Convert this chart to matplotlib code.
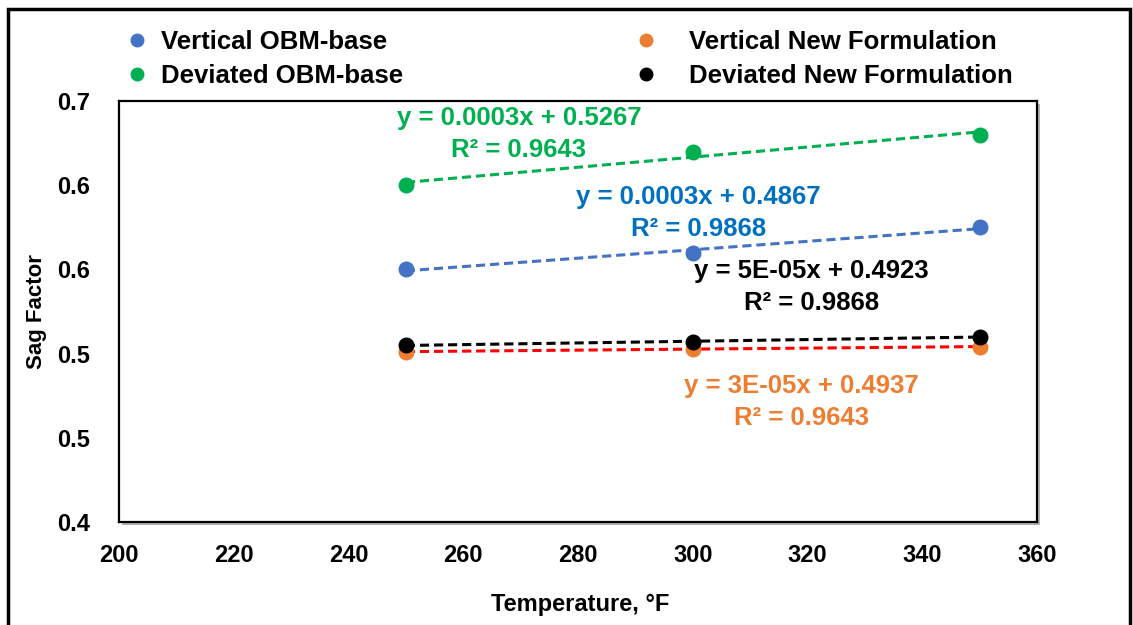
# sag factor vs temperature, four series with linear trendlines
import numpy as np
import matplotlib.pyplot as plt
from matplotlib.patches import Rectangle
from matplotlib.lines import Line2D
from matplotlib.ticker import MultipleLocator, FuncFormatter
import matplotlib.patheffects as pe

temps = [250, 300, 350]
vertical_obm = [0.55, 0.56, 0.575]
vertical_new = [0.501, 0.503, 0.504]
deviated_obm = [0.60, 0.62, 0.63]
deviated_new = [0.505, 0.507, 0.510]

plt.rcParams['font.family'] = ['Liberation Sans', 'DejaVu Sans']
plt.rcParams['font.weight'] = 'bold'
plt.rcParams['axes.labelweight'] = 'bold'

fig = plt.figure(figsize=(11.33, 6.25), dpi=100)
ax = fig.add_axes([119/1133, 1 - 522/625, 918/1133, 421/625])

# label, values, marker colour, trendline colour, equation text, text colour, text pos
series = [
    ("Vertical OBM-base", vertical_obm, "#4472C4", "#4472C4",
     "y = 0.0003x + 0.4867\nR\u00b2 = 0.9868", "#0070C0", (301, 0.5835)),
    ("Deviated OBM-base", deviated_obm, "#00B050", "#00B050",
     "y = 0.0003x + 0.5267\nR\u00b2 = 0.9643", "#00B050", (269.7, 0.6305)),
    ("Vertical New Formulation", vertical_new, "#ED7D31", "#FF0000",
     "y = 3E-05x + 0.4937\nR\u00b2 = 0.9643", "#ED7D31", (319, 0.4713)),
    ("Deviated New Formulation", deviated_new, "#000000", "#000000",
     "y = 5E-05x + 0.4923\nR\u00b2 = 0.9868", "#000000", (320.7, 0.5396)),
]

handles = []
for i, (name, vals, mcol, tcol, eq, ecol, pos) in enumerate(series):
    k, b = np.polyfit(temps, vals, 1)
    xs = np.array([temps[0], temps[-1]])
    ax.plot(xs, k * xs + b, color=tcol, lw=2.2, ls=(0, (3, 1.6)), zorder=3 + i)
    ax.scatter(temps, vals, s=110, color=mcol, zorder=10 + i)
    ax.text(pos[0], pos[1], eq, color=ecol, fontsize=18.5, ha='center', va='center',
            linespacing=1.45, zorder=20)
    handles.append(Line2D([], [], ls='', marker='o', markersize=9, color=mcol, label=name))

ax.set_xlim(200, 360)
ax.set_ylim(0.4, 0.65)
ax.xaxis.set_major_locator(MultipleLocator(20))
ax.yaxis.set_major_locator(MultipleLocator(0.05))
ax.yaxis.set_major_formatter(FuncFormatter(lambda v, p: "%.1f" % round(v + 1e-9, 1)))
ax.tick_params(length=0, labelsize=17)
ax.tick_params(axis='y', pad=21)
ax.tick_params(axis='x', pad=16)

for s in ax.spines.values():
    s.set_color('black')
    s.set_linewidth(1.6)
ax.patch.set_path_effects([pe.withSimplePatchShadow(offset=(2, -2), shadow_rgbFace='gray', alpha=0.6)])

ax.set_xlabel("Temperature, \u00b0F", fontsize=17)
ax.set_ylabel("Sag Factor", fontsize=16)
ax.xaxis.set_label_coords(0.502, -0.168)
ax.yaxis.set_label_coords(-0.078, 0.5)

leg_kw = dict(frameon=False, fontsize=18.5, handlelength=0.6,
              labelspacing=0.38, borderpad=0, borderaxespad=0)
fig.legend(handles=handles[:2], loc='upper left', bbox_to_anchor=(129/1133, 1 - 30/625),
           handletextpad=0.65, **leg_kw)
fig.legend(handles=handles[2:], loc='upper left', bbox_to_anchor=(638/1133, 1 - 30/625),
           handletextpad=1.4, **leg_kw)

# outer chart border
fig.patches.append(Rectangle((8/1133, -0.1), 1122/1133, 1.1 - 9/625, transform=fig.transFigure,
                             fill=False, lw=2.5, edgecolor='black'))

fig.savefig("out.png", dpi=100)
